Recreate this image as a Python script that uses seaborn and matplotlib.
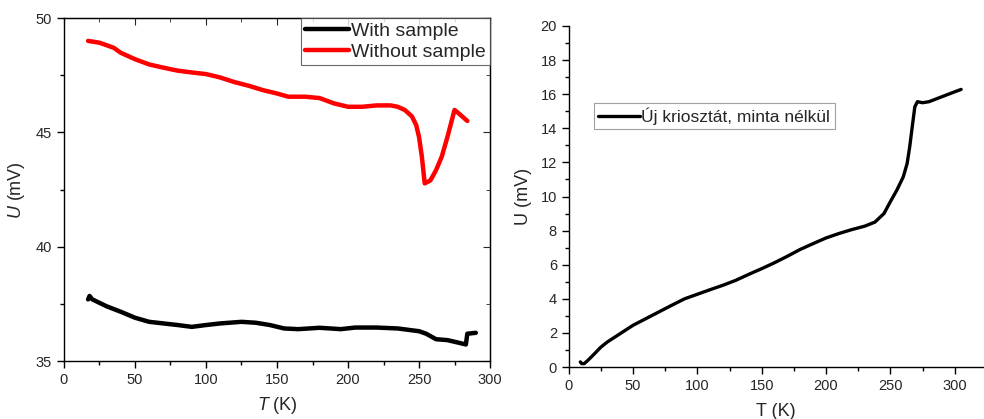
import matplotlib
matplotlib.use("Agg")
import matplotlib.pyplot as plt
import seaborn as sns
import pandas as pd
from matplotlib.ticker import AutoMinorLocator, MultipleLocator

# left panel: with / without sample
t_with = [17, 18, 20, 30, 40, 50, 60, 70, 80, 90, 100, 110, 125, 135, 145, 155, 165, 180,
          195, 205, 220, 235, 250, 255, 262, 270, 277, 283, 284, 290]
u_with = [37.7, 37.85, 37.7, 37.4, 37.16, 36.9, 36.72, 36.65, 36.58, 36.5, 36.58, 36.65,
          36.72, 36.68, 36.58, 36.43, 36.4, 36.46, 36.4, 36.47, 36.47, 36.43, 36.31, 36.2,
          35.96, 35.92, 35.82, 35.73, 36.2, 36.24]
t_without = [17, 25, 35, 40, 50, 60, 70, 80, 90, 100, 110, 120, 130, 140, 150, 158, 170, 180,
             190, 200, 210, 220, 230, 235, 240, 245, 248, 250, 252, 254, 258, 262, 266, 270,
             275, 278, 284]
u_without = [49.0, 48.92, 48.7, 48.48, 48.2, 47.97, 47.83, 47.7, 47.62, 47.55, 47.4, 47.2,
             47.04, 46.85, 46.7, 46.56, 46.56, 46.5, 46.27, 46.12, 46.12, 46.18, 46.18, 46.12,
             45.98, 45.7, 45.32, 44.8, 43.94, 42.77, 42.9, 43.35, 43.94, 44.8, 45.98, 45.83, 45.5]

# right panel: new cryostat, no sample
t_new = [9, 10, 12, 15, 20, 25, 30, 40, 50, 60, 70, 80, 90, 100, 110, 120, 130, 140, 150, 160,
         170, 180, 190, 200, 210, 220, 230, 238, 245, 250, 255, 260, 263, 265, 267, 269, 271,
         275, 280, 290, 300, 305]
u_new = [0.3, 0.2, 0.2, 0.4, 0.78, 1.17, 1.47, 1.96, 2.45, 2.84, 3.23, 3.62, 4.0, 4.27, 4.54,
         4.8, 5.09, 5.44, 5.77, 6.12, 6.5, 6.9, 7.24, 7.57, 7.83, 8.06, 8.26, 8.5, 9.0, 9.7,
         10.37, 11.15, 11.93, 12.9, 14.1, 15.26, 15.56, 15.5, 15.56, 15.85, 16.14, 16.28]

sns.set_style("ticks")
plt.rcParams["font.family"] = ["Liberation Sans", "DejaVu Sans"]
plt.rcParams["mathtext.fontset"] = "custom"
plt.rcParams["mathtext.rm"] = "Liberation Sans"
plt.rcParams["mathtext.it"] = "Liberation Sans:italic"

left = pd.concat([
    pd.DataFrame({"T": t_with, "U": u_with, "series": "With sample"}),
    pd.DataFrame({"T": t_without, "U": u_without, "series": "Without sample"}),
])
right = pd.DataFrame({"T": t_new, "U": u_new})

fig = plt.figure(figsize=(9.84, 4.19), dpi=100)
ax1 = fig.add_axes([0.065, 0.138, 0.433, 0.819])
ax2 = fig.add_axes([0.578, 0.124, 0.421, 0.814])

sns.lineplot(data=left, x="T", y="U", hue="series", palette=["black", "red"], sort=False,
             lw=3.2, ax=ax1)
ax1.set_xlim(0, 300)
ax1.set_ylim(35, 50)
ax1.xaxis.set_major_locator(MultipleLocator(50))
ax1.yaxis.set_major_locator(MultipleLocator(5))
ax1.xaxis.set_minor_locator(AutoMinorLocator(2))
ax1.yaxis.set_minor_locator(AutoMinorLocator(2))
ax1.tick_params(which="both", direction="out", labelsize=10.5, color="black", width=1)
ax1.tick_params(which="major", length=5)
ax1.tick_params(which="minor", length=3)
for s in ax1.spines.values():
    s.set_color("black")
    s.set_linewidth(1)
top = ax1.secondary_xaxis("top")
top.xaxis.set_major_locator(MultipleLocator(50))
top.xaxis.set_minor_locator(AutoMinorLocator(2))
top.tick_params(which="both", direction="in", labeltop=False)
top.tick_params(which="major", length=5)
top.tick_params(which="minor", length=3)
rgt = ax1.secondary_yaxis("right")
rgt.yaxis.set_major_locator(MultipleLocator(5))
rgt.yaxis.set_minor_locator(AutoMinorLocator(2))
rgt.tick_params(which="both", direction="in", labelright=False)
rgt.tick_params(which="major", length=5)
rgt.tick_params(which="minor", length=3)
ax1.set_xlabel("$\\it{T}$ (K)", fontsize=13, labelpad=6)
ax1.set_ylabel("$\\it{U}$ (mV)", fontsize=13, labelpad=6)
leg = ax1.legend(loc="upper right", fontsize=14, frameon=True, fancybox=False,
                 borderaxespad=0, handlelength=2.3, handletextpad=0.1,
                 borderpad=0.2, labelspacing=0.2)
leg.get_frame().set_edgecolor("#444444")
leg.get_frame().set_linewidth(0.8)
for h in leg.get_lines():
    h.set_linewidth(3.2)

sns.lineplot(data=right, x="T", y="U", color="black", sort=False, lw=2.4, ax=ax2,
             label="Új kriosztát, minta nélkül")
ax2.set_xlim(0, 322)
ax2.set_ylim(0, 20)
ax2.xaxis.set_major_locator(MultipleLocator(50))
ax2.yaxis.set_major_locator(MultipleLocator(2))
ax2.xaxis.set_minor_locator(AutoMinorLocator(2))
ax2.yaxis.set_minor_locator(AutoMinorLocator(2))
ax2.tick_params(which="both", direction="out", labelsize=10.5, color="black", width=1)
ax2.tick_params(which="major", length=5)
ax2.tick_params(which="minor", length=3)
sns.despine(ax=ax2)
for s in ("left", "bottom"):
    ax2.spines[s].set_color("black")
    ax2.spines[s].set_linewidth(1)
ax2.set_xlabel("T (K)", fontsize=13, labelpad=7)
ax2.set_ylabel("U (mV)", fontsize=13, labelpad=6)
leg2 = ax2.legend(loc="center left", bbox_to_anchor=(0.06, 0.735), fontsize=12.5,
                  frameon=True, fancybox=False, borderaxespad=0, handlelength=2.4,
                  handletextpad=0.1, borderpad=0.25)
leg2.get_frame().set_edgecolor("#888888")
leg2.get_frame().set_linewidth(0.8)
for h in leg2.get_lines():
    h.set_linewidth(2.4)

fig.savefig("out.png", dpi=100)
